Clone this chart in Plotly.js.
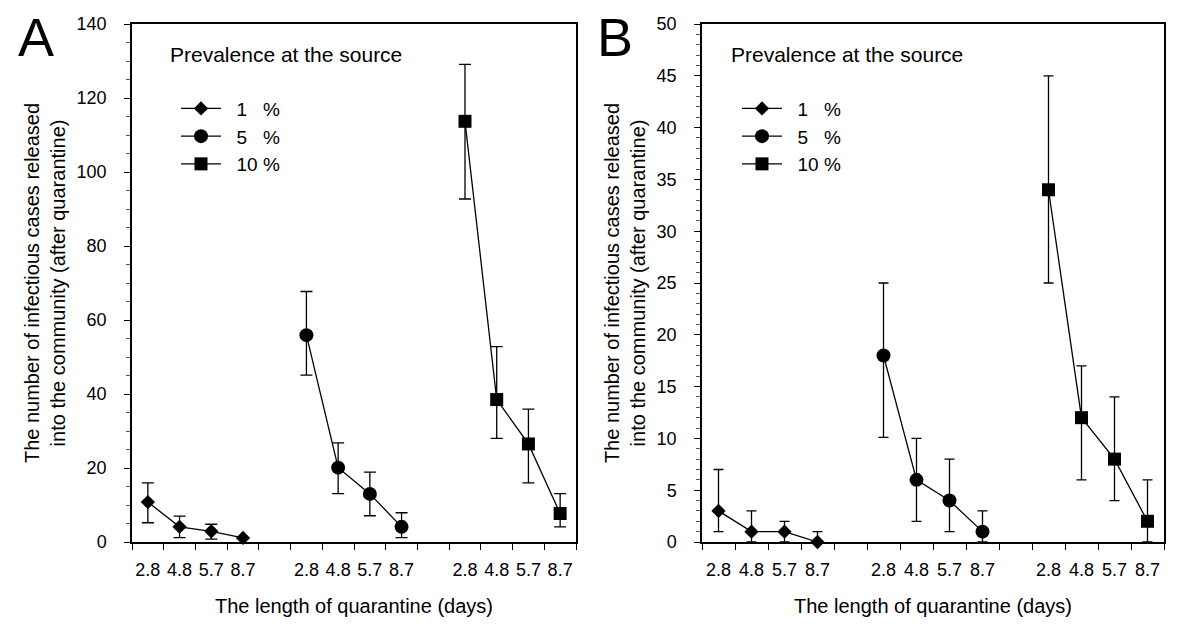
<!DOCTYPE html>
<html>
<head>
<meta charset="utf-8">
<script src="https://cdn.plot.ly/plotly-3.0.1.min.js"></script>
<style>
html, body { margin: 0; padding: 0; background: #ffffff; }
#chart { width: 1200px; height: 634px; }
</style>
</head>
<body>
<div id="chart"></div>
<script>
// ---- Data ----
const quarantineDays = ['2.8', '4.8', '5.7', '8.7'];
const seriesNames = ['  1   %', '  5   %', '  10 %'];
const legendTitle = 'Prevalence at the source';

// Panel A : mean, upper and lower limits
const a1 = [10.8, 4.1, 2.9, 1.1];
const a1Upper = [16.0, 7.0, 4.8, 1.1];
const a1Lower = [5.2, 1.2, 0.8, 1.1];
const a5 = [55.9, 20.1, 13.0, 4.1];
const a5Upper = [67.7, 26.8, 18.9, 7.9];
const a5Lower = [45.1, 13.1, 7.1, 1.2];
const a10 = [113.7, 38.5, 26.5, 7.7];
const a10Upper = [129.1, 52.8, 35.9, 13.1];
const a10Lower = [92.7, 28.0, 16.0, 4.1];

// Panel B : mean, upper and lower limits
const b1 = [3, 1, 1, 0];
const b1Upper = [7, 3, 2, 1];
const b1Lower = [1, 0, 0, 0];
const b5 = [18, 6, 4, 1];
const b5Upper = [25, 10, 8, 3];
const b5Lower = [10.1, 2, 1, 0];
const b10 = [34, 12, 8, 2];
const b10Upper = [45, 17, 14, 6];
const b10Lower = [25, 6, 4, 0];

// ---- Styling / layout helpers ----
const FONT = 'Liberation Sans, Arial, Helvetica, sans-serif';
const symbols = ['diamond', 'circle', 'square'];
const markerSizes = [11, 14, 13];
const groupGap = 1; // empty slot between prevalence groups

function xPositions(groupIndex) {
  return quarantineDays.map((d, i) => groupIndex * (quarantineDays.length + groupGap) + i + 0.5);
}

function makeTrace(groupIndex, values, upper, lower, axisSuffix, legendName, capWidth) {
  return {
    type: 'scatter',
    mode: 'lines+markers',
    name: seriesNames[groupIndex],
    legend: legendName,
    x: xPositions(groupIndex),
    y: values,
    xaxis: 'x' + axisSuffix,
    yaxis: 'y' + axisSuffix,
    cliponaxis: false,
    line: { color: '#000000', width: 1.3 },
    marker: { symbol: symbols[groupIndex], size: markerSizes[groupIndex], color: '#000000' },
    error_y: {
      type: 'data',
      symmetric: false,
      array: upper.map((u, i) => u - values[i]),
      arrayminus: lower.map((l, i) => values[i] - l),
      color: '#000000',
      thickness: 1.3,
      width: capWidth
    },
    hoverinfo: 'x+y'
  };
}

const traces = [
  makeTrace(0, a1, a1Upper, a1Lower, '', 'legend', 6),
  makeTrace(1, a5, a5Upper, a5Lower, '', 'legend', 6),
  makeTrace(2, a10, a10Upper, a10Lower, '', 'legend', 6),
  makeTrace(0, b1, b1Upper, b1Lower, '2', 'legend2', 5),
  makeTrace(1, b5, b5Upper, b5Lower, '2', 'legend2', 5),
  makeTrace(2, b10, b10Upper, b10Lower, '2', 'legend2', 5)
];

const allTickVals = [0, 1, 2].flatMap(g => xPositions(g));
const allTickText = [0, 1, 2].flatMap(() => quarantineDays);
const nSlots = 3 * quarantineDays.length + 2 * groupGap;

function xAxis(domain, anchor) {
  return {
    domain: domain,
    anchor: anchor,
    range: [0, nSlots],
    tickmode: 'array',
    tickvals: allTickVals,
    ticktext: allTickText,
    ticks: '',
    ticklabelstandoff: 11,
    minor: { tickmode: 'linear', tick0: 0, dtick: 1, ticks: 'outside', ticklen: 6, tickwidth: 1, tickcolor: '#000000', showgrid: false },
    showline: true,
    mirror: true,
    linecolor: '#000000',
    linewidth: 1.5,
    showgrid: false,
    zeroline: false,
    tickfont: { family: FONT, size: 18, color: '#000000' },
    title: { text: 'The length of quarantine (days)', font: { family: FONT, size: 20, color: '#000000' }, standoff: 20 },
    fixedrange: true
  };
}

function yAxis(domain, anchor, maxVal, major, minor) {
  return {
    domain: domain,
    anchor: anchor,
    range: [0, maxVal],
    tickmode: 'linear',
    tick0: 0,
    dtick: major,
    ticks: 'outside',
    ticklen: 6,
    tickwidth: 1,
    tickcolor: '#000000',
    ticklabelstandoff: 14,
    minor: { tickmode: 'linear', tick0: 0, dtick: minor, ticks: 'outside', ticklen: 4, tickwidth: 1, tickcolor: '#555555', showgrid: false },
    showline: true,
    mirror: true,
    linecolor: '#000000',
    linewidth: 1.5,
    showgrid: false,
    zeroline: false,
    tickfont: { family: FONT, size: 18, color: '#000000' },
    title: {
      text: 'The number of infectious cases released<br>into the community (after quarantine)',
      font: { family: FONT, size: 20, color: '#000000' },
      standoff: 6
    },
    fixedrange: true
  };
}

const yDomain = [1 - 542 / 634, 1 - 24 / 634];

function legendBox(xPx) {
  return {
    x: xPx / 1200,
    xanchor: 'left',
    y: 1 - 35 / 634,
    yanchor: 'top',
    xref: 'paper',
    yref: 'paper',
    bgcolor: 'rgba(0,0,0,0)',
    borderwidth: 0,
    font: { family: FONT, size: 19, color: '#000000' },
    title: { text: legendTitle + '<br> ', font: { family: FONT, size: 21, color: '#000000' } },
    itemwidth: 40,
    indentation: 8,
    tracegroupgap: 0,
    itemclick: false,
    itemdoubleclick: false
  };
}

const layout = {
  width: 1200,
  height: 634,
  margin: { l: 0, r: 0, t: 0, b: 0 },
  paper_bgcolor: '#ffffff',
  plot_bgcolor: '#ffffff',
  font: { family: FONT, color: '#000000' },
  showlegend: true,
  xaxis: xAxis([132 / 1200, 576 / 1200], 'y'),
  yaxis: yAxis(yDomain, 'x', 140, 20, 5),
  xaxis2: xAxis([702 / 1200, 1164 / 1200], 'y2'),
  yaxis2: yAxis(yDomain, 'x2', 50, 5, 1),
  legend: legendBox(168),
  legend2: legendBox(729),
  annotations: [
    { text: 'A', xref: 'paper', yref: 'paper', x: 36 / 1200, y: 1 - 37 / 634, xanchor: 'center', yanchor: 'middle', showarrow: false, font: { family: FONT, size: 54, color: '#000000' } },
    { text: 'B', xref: 'paper', yref: 'paper', x: 615 / 1200, y: 1 - 37 / 634, xanchor: 'center', yanchor: 'middle', showarrow: false, font: { family: FONT, size: 54, color: '#000000' } }
  ]
};

Plotly.newPlot('chart', traces, layout, { displayModeBar: false, responsive: false });
</script>
</body>
</html>
